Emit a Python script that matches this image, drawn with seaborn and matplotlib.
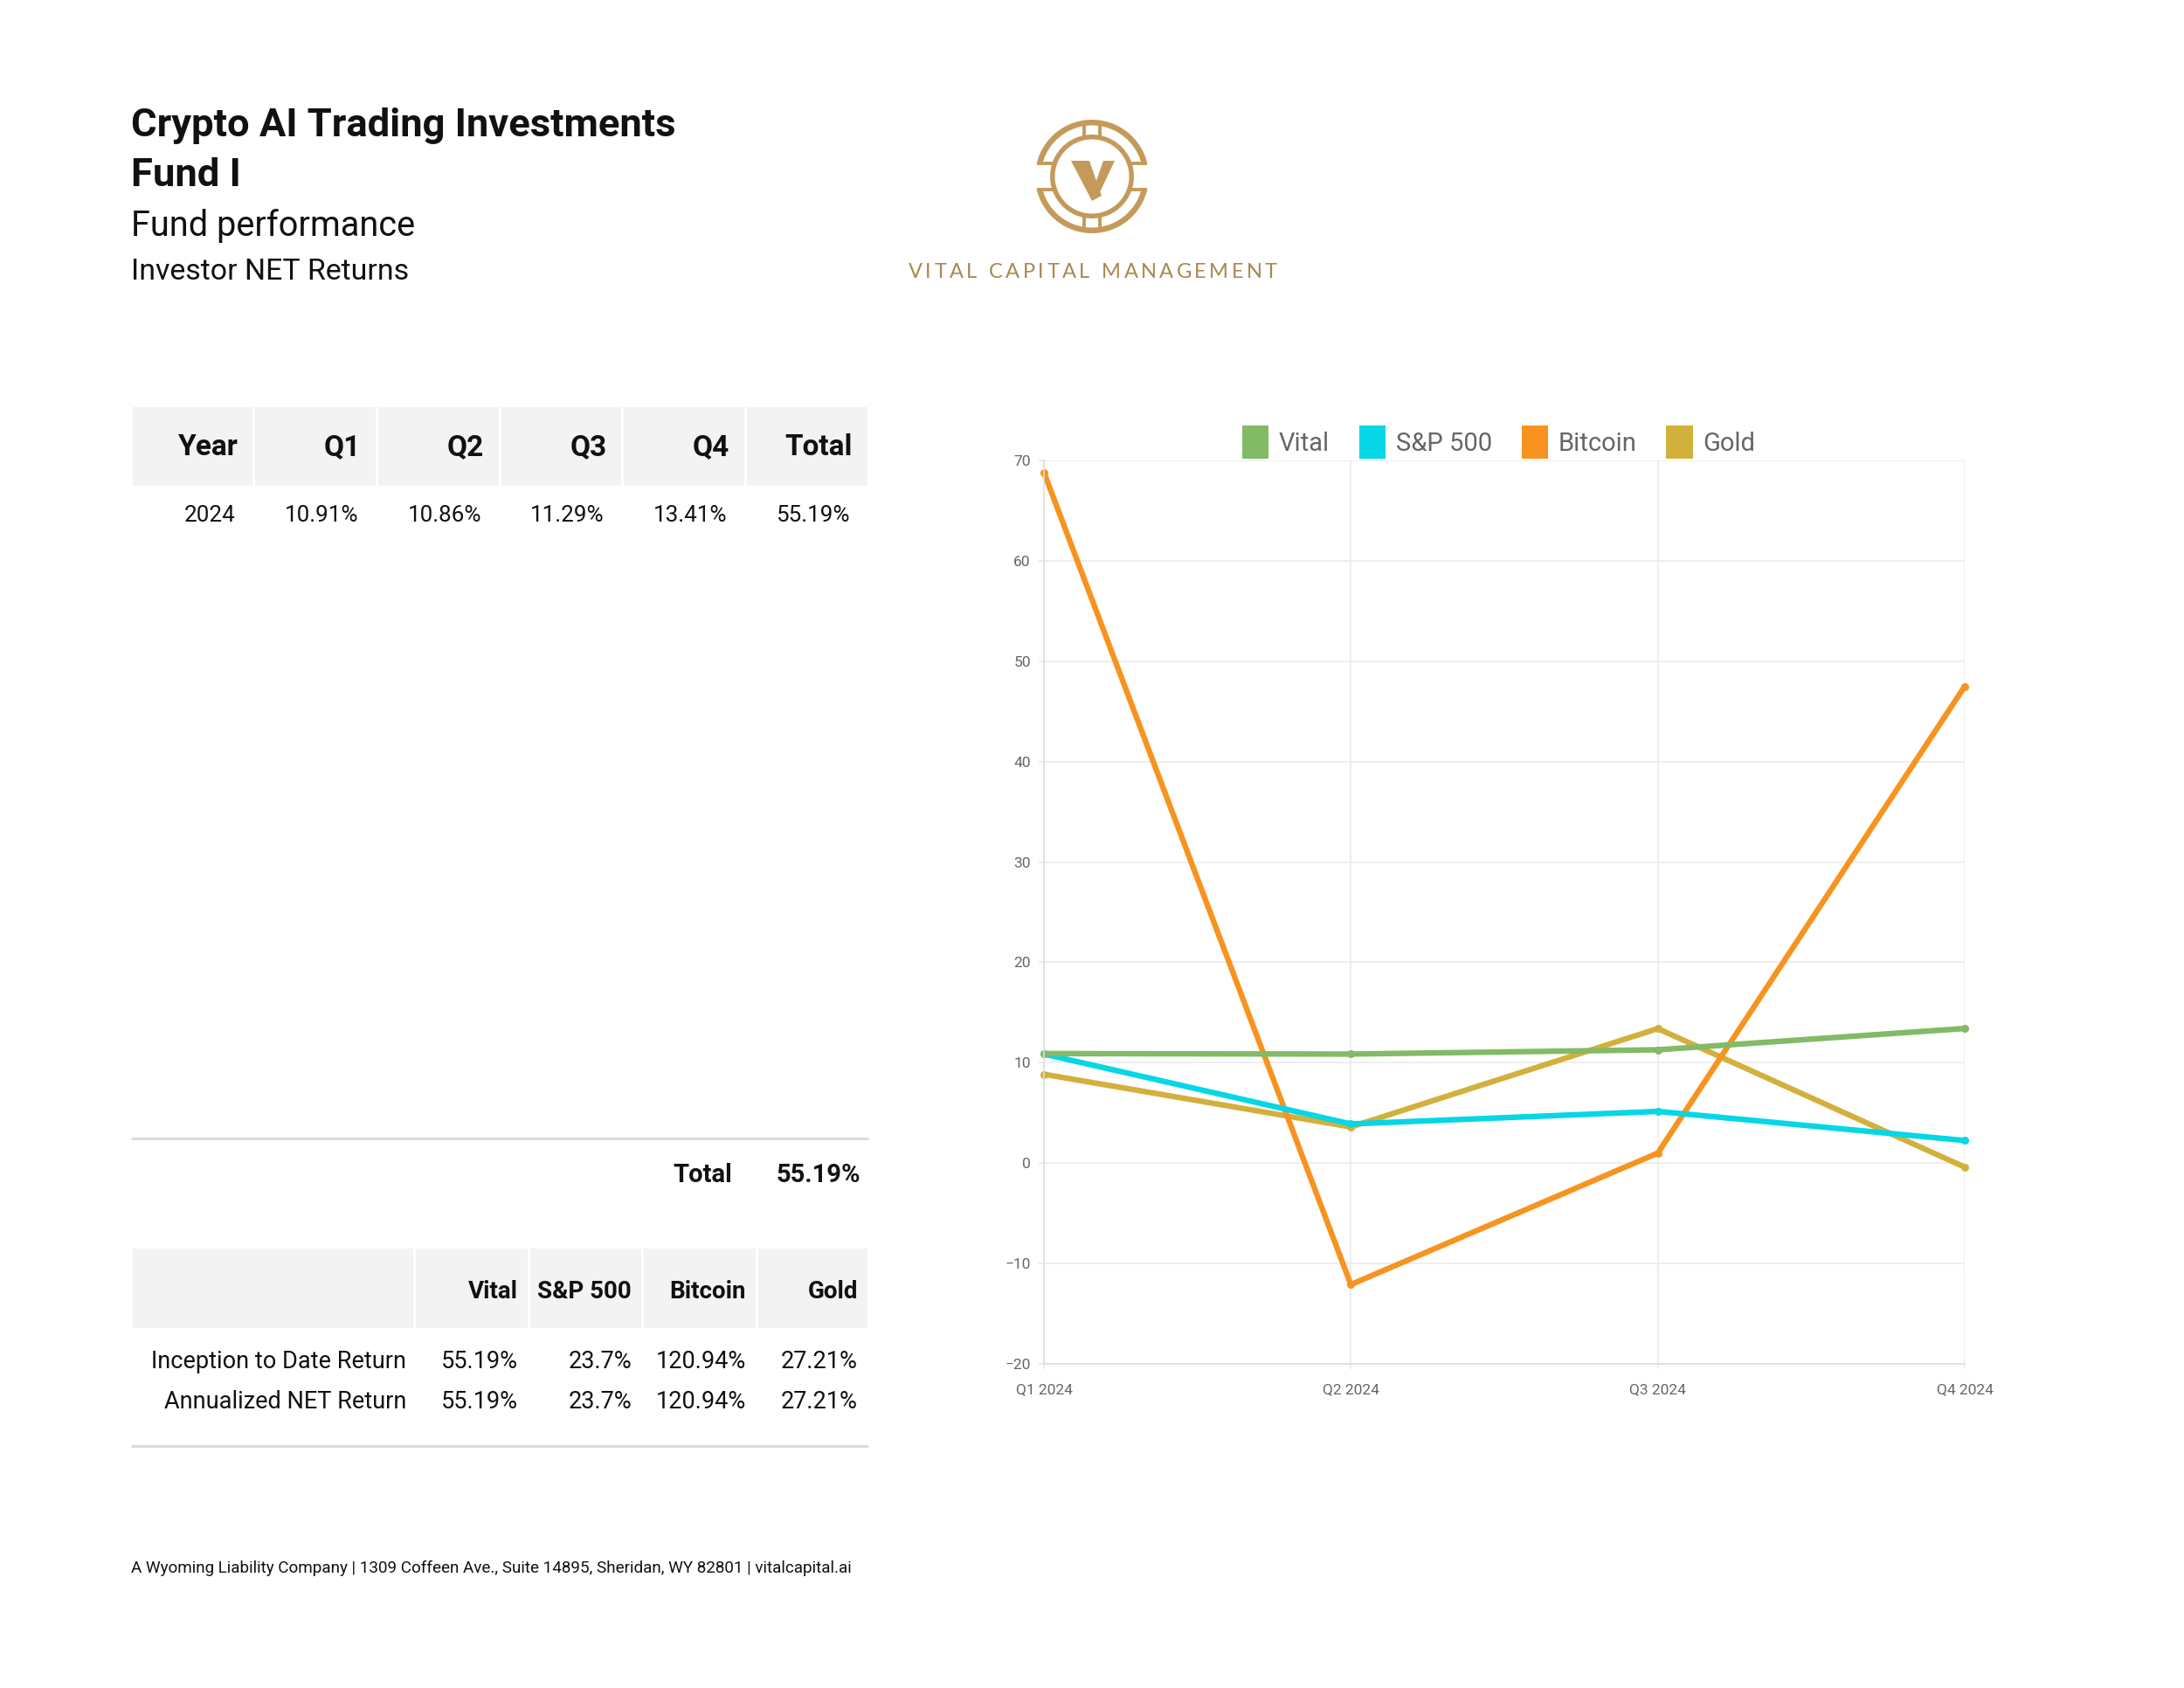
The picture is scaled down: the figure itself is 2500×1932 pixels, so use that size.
import matplotlib
matplotlib.use("Agg")
import matplotlib.pyplot as plt
import seaborn as sns
import pandas as pd
import numpy as np
from matplotlib.patches import Rectangle, Patch, Polygon, Wedge
from matplotlib.textpath import TextToPath
from matplotlib.font_manager import FontProperties

# ---------------- data ----------------
quarters = ["Q1 2024", "Q2 2024", "Q3 2024", "Q4 2024"]
series_names = ["Vital", "S&P 500", "Bitcoin", "Gold"]
vital = [10.91, 10.86, 11.29, 13.41]
sp500 = [10.86, 3.90, 5.15, 2.25]
bitcoin = [68.8, -12.1, 1.0, 47.5]
gold = [8.85, 3.60, 13.40, -0.40]
series_colors = ["#83BA66", "#06D6E6", "#F7931E", "#D2B03C"]
y_ticks = [-20, -10, 0, 10, 20, 30, 40, 50, 60, 70]

title_lines = ["Crypto AI Trading Investments", "Fund I"]
subtitle = "Fund performance"
subsubtitle = "Investor NET Returns"

t1_header = ["Year", "Q1", "Q2", "Q3", "Q4", "Total"]
t1_rows = [["2024", "10.91%", "10.86%", "11.29%", "13.41%", "55.19%"]]
total_label = "Total"
total_value = "55.19%"

t2_header = ["", "Vital", "S&P 500", "Bitcoin", "Gold"]
t2_rows = [["Inception to Date Return", "55.19%", "23.7%", "120.94%", "27.21%"],
           ["Annualized NET Return", "55.19%", "23.7%", "120.94%", "27.21%"]]

footer = "A Wyoming Liability Company | 1309 Coffeen Ave., Suite 14895, Sheridan, WY 82801 | vitalcapital.ai"
logo_text = "VITAL CAPITAL MANAGEMENT"

# ---------------- style ----------------
sns.set_theme(style="white")
plt.rcParams["font.family"] = ["Roboto", "DejaVu Sans"]

W, H = 2500, 1932
DPI = 100
fig = plt.figure(figsize=(W / DPI, H / DPI), dpi=DPI)
fig.patch.set_facecolor("white")

# overlay axes in pixel coordinates (y downward)
ov = fig.add_axes([0, 0, 1, 1], zorder=0)
ov.set_xlim(0, W)
ov.set_ylim(H, 0)
ov.axis("off")

TXT = "#111111"

# ---- titles ----
ov.text(150, 144, title_lines[0], fontsize=32.7, fontweight="bold", color=TXT, va="center", ha="left")
ov.text(150, 201, title_lines[1], fontsize=32.7, fontweight="bold", color=TXT, va="center", ha="left")
ov.text(150, 259, subtitle, fontsize=28.6, color=TXT, va="center", ha="left")
ov.text(150, 311, subsubtitle, fontsize=24.4, color=TXT, va="center", ha="left")

# ---- table 1 ----
HDR_BG = "#F3F3F3"
L, R = 150, 994
t1_edges = list(np.linspace(L, R, len(t1_header) + 1))
for i in range(len(t1_header)):
    x0, x1 = t1_edges[i], t1_edges[i + 1]
    ov.add_patch(Rectangle((x0 + 1.5, 466), x1 - x0 - 3, 90, facecolor=HDR_BG, edgecolor="none"))
    ov.text(x1 - 18, 512, t1_header[i], fontsize=24, fontweight="bold", color=TXT, ha="right", va="center")
    for r, row in enumerate(t1_rows):
        ov.text(x1 - 21, 590 + r * 46, row[i], fontsize=18.7, color=TXT, ha="right", va="center")

ov.plot([L, R], [1303, 1303], color="#DCDCDC", lw=2.2, solid_capstyle="butt")
ov.text(838, 1345, total_label, fontsize=21, fontweight="bold", color=TXT, ha="right", va="center")
ov.text(985, 1345, total_value, fontsize=21, fontweight="bold", color=TXT, ha="right", va="center")

# ---- table 2 ----
t2_edges = [L, 474, 605, 735, 866, R]
for i in range(len(t2_header)):
    x0, x1 = t2_edges[i], t2_edges[i + 1]
    ov.add_patch(Rectangle((x0 + 1.5, 1429), x1 - x0 - 3, 91, facecolor=HDR_BG, edgecolor="none"))
    if t2_header[i]:
        ov.text(x1 - 12, 1478, t2_header[i], fontsize=20, fontweight="bold", color=TXT, ha="right", va="center")
    for r, row in enumerate(t2_rows):
        pad = 9 if i == 0 else 12
        ov.text(x1 - pad, 1558 + r * 46, row[i], fontsize=19.5, color=TXT, ha="right", va="center")
ov.plot([L, R], [1655, 1655], color="#DCDCDC", lw=2.2, solid_capstyle="butt")

# ---- footer ----
ov.text(150, 1795, footer, fontsize=13.6, color=TXT, ha="left", va="center")

# ---- logo ----
GOLD = "#C49A5A"
cx, cy = 1250, 202
R_out, th_out = 65, 6.5
ov.add_patch(Wedge((cx, cy), R_out, 193, 347, width=th_out, facecolor=GOLD, edgecolor="none"))
ov.add_patch(Wedge((cx, cy), R_out, 13, 167, width=th_out, facecolor=GOLD, edgecolor="none"))
R_in, th_in = 48, 5.5
ov.add_patch(Wedge((cx, cy), R_in, 0, 360, width=th_in, facecolor=GOLD, edgecolor="none"))
for sx in (-1, 1):
    for sy in (-1, 1):
        yy = cy + sy * 15
        xa = cx + sx * (R_in - 3)
        xb = cx + sx * np.sqrt(R_out ** 2 - 15 ** 2)
        ov.plot([xa, xb], [yy, yy], color=GOLD, lw=2.8, solid_capstyle="butt")
for sy in (-1, 1):
    for dx in (-9, 9):
        ov.plot([cx + dx, cx + dx], [cy + sy * (R_in - 3), cy + sy * (R_out - 3)], color=GOLD, lw=2.8,
                solid_capstyle="butt")
ov.add_patch(Polygon([(1226, 184), (1247, 184), (1261, 224), (1250, 230)], closed=True, facecolor=GOLD,
                     edgecolor="none"))
ov.add_patch(Polygon([(1263, 184), (1276, 184), (1259, 220), (1255, 207)], closed=True, facecolor=GOLD,
                     edgecolor="none"))

fp = FontProperties(family="Lato", size=17)
ttp = TextToPath()
widths = []
for ch in logo_text:
    w, h, d = ttp.get_text_width_height_descent(ch if ch != " " else "n", fp, ismath=False)
    widths.append(w * DPI / 72.0 * (0.55 if ch == " " else 1.0))
span_l, span_r = 1040, 1462
extra = (span_r - span_l - sum(widths)) / (len(logo_text) - 1)
xx = span_l
for ch, w in zip(logo_text, widths):
    if ch != " ":
        ov.text(xx, 311, ch, fontproperties=fp, color="#A9874F", ha="left", va="center")
    xx += w + extra

# ---------------- chart ----------------
ax_l, ax_r, ax_t, ax_b = 1195, 2249, 527, 1561
ax = fig.add_axes([ax_l / W, 1 - ax_b / H, (ax_r - ax_l) / W, (ax_b - ax_t) / H], zorder=2)
ax.set_facecolor("none")

df = pd.DataFrame({
    "quarter": quarters * 4,
    "value": vital + sp500 + bitcoin + gold,
    "series": [s for s in series_names for _ in quarters],
})
palette = dict(zip(series_names, series_colors))
for name in series_names[::-1]:
    sub = df[df["series"] == name]
    sns.lineplot(data=sub, x="quarter", y="value", color=palette[name], ax=ax, sort=False,
                 linewidth=4.6, marker="o", markersize=6.5, markeredgewidth=0, legend=False,
                 clip_on=False)

ax.set_xlim(0, len(quarters) - 1)
ax.set_ylim(min(y_ticks), max(y_ticks))
ax.set_yticks(y_ticks)
ax.set_xticks(range(len(quarters)))
ax.set_xticklabels(quarters)
ax.set_xlabel("")
ax.set_ylabel("")
GRID = "#EBEBEB"
ax.grid(True, color=GRID, lw=1.2)
ax.set_axisbelow(True)
for s in ("top", "right"):
    ax.spines[s].set_visible(False)
for s in ("left", "bottom"):
    ax.spines[s].set_color("#DDDDDD")
    ax.spines[s].set_linewidth(1.2)
ax.tick_params(axis="y", labelsize=12.5, labelcolor="#666666", color=GRID, length=4, width=1.2, pad=7,
               left=True)
ax.tick_params(axis="x", labelsize=12.5, labelcolor="#666666", color=GRID, length=4, width=1.2, pad=12,
               bottom=True)

handles = [Patch(facecolor=c, edgecolor="none", label=n) for n, c in zip(series_names, series_colors)]
leg = ax.legend(handles=handles, loc="lower center", bbox_to_anchor=(0.494, 0.988), ncol=4, frameon=False,
                fontsize=21, handlelength=1.05, handleheight=1.6, handletextpad=0.4, columnspacing=1.15,
                borderaxespad=0.1)
for t in leg.get_texts():
    t.set_color("#666666")

fig.savefig("out.png", dpi=DPI, facecolor="white")
